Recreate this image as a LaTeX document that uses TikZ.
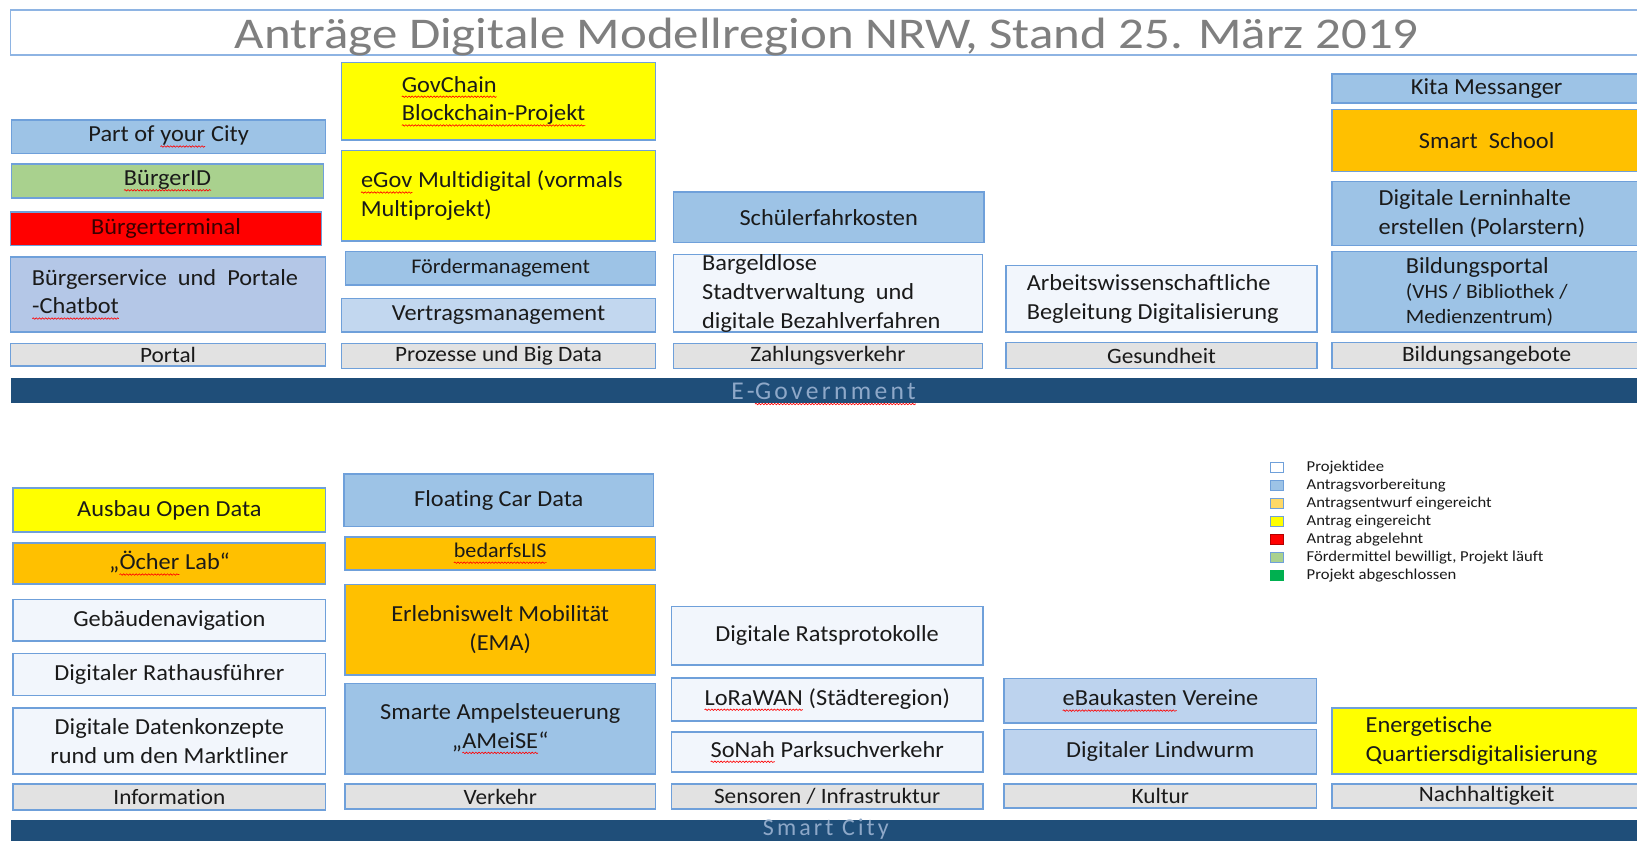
\documentclass[tikz,border=0pt]{standalone}
\usepackage{fontspec}
\setmainfont{Carlito}[FakeStretch=1.06,Ligatures=NoCommon]
\newfontfamily\titlefont{Carlito}[FakeStretch=1.16,Ligatures=NoCommon]
\newfontfamily\barfont{Carlito}[LetterSpace=13,Ligatures=NoCommon]
\newfontfamily\legfont{Carlito}[FakeStretch=1.1,Ligatures=NoCommon]
\usetikzlibrary{decorations.pathmorphing}
\definecolor{bord}{HTML}{6FA0DA}
\definecolor{tbord}{HTML}{8EB4E3}
\definecolor{cblue}{HTML}{9DC3E6}
\definecolor{clblue}{HTML}{BDD3EE}
\definecolor{cvert}{HTML}{C2D7EF}
\definecolor{cpurp}{HTML}{B4C7E7}
\definecolor{cidea}{HTML}{F2F6FC}
\definecolor{cyel}{HTML}{FFFF00}
\definecolor{corange}{HTML}{FFC000}
\definecolor{cred}{HTML}{FF0000}
\definecolor{cgreen}{HTML}{A9D18E}
\definecolor{cdone}{HTML}{00B050}
\definecolor{cdraft}{HTML}{FFD966}
\definecolor{cgray}{HTML}{E2E2E2}
\definecolor{cbar}{HTML}{1F4E79}
\definecolor{cbartext}{HTML}{8EA8C8}
\definecolor{ctitle}{HTML}{7F7F7F}
\definecolor{ctext}{HTML}{1A1A1A}
\definecolor{cdarkred}{HTML}{3A0000}
\newcommand\sq[1]{\tikz[baseline=(w.base)]{\node[inner sep=0pt,outer sep=0pt,minimum width=0pt,minimum height=0pt,draw=none,fill=none,anchor=base,font={}](w) at (0pt,0pt){#1};\draw[red,line width=0.6pt,decorate,decoration={snake,amplitude=0.7pt,segment length=3pt}] ([yshift=-4.5pt]w.base west)--([yshift=-4.5pt]w.base east);}}
\newcommand\bx[7]{\node[tile,fill=#6,minimum width={(#4)-(#2)},minimum height={(#5)-(#3)},align=center] (#1) at ({((#2)+(#4))/2},{((#3)+(#5))/2}) {#7};}
\newcommand\bxl[8]{\node[tile,fill=#6,minimum width={(#4)-(#2)},minimum height={(#5)-(#3)}] (#1) at ({((#2)+(#4))/2},{((#3)+(#5))/2}) {};
\node[txt,anchor=west,align=left] (#1t) at ([xshift={(#7)-(#2)}]#1.west) {#8};}
\begin{document}
\begin{tikzpicture}[x=1pt,y=-1pt,
  tile/.style={draw=bord,line width=1.3pt,inner sep=0pt,text=ctext,font=\fontsize{22}{27.5}\selectfont},
  txt/.style={inner sep=0pt,text=ctext,font=\fontsize{22}{27.5}\selectfont},
  bartext/.style={inner sep=0pt,anchor=base,text=cbartext,font=\barfont\fontsize{24.5}{29}\selectfont},
  legsq/.style={draw=bord,line width=0.8pt,minimum width=12.5pt,minimum height=9.5pt,inner sep=0pt},
  legtxt/.style={anchor=west,inner sep=0pt,text=ctext,font=\legfont\fontsize{14.5}{17}\selectfont}]
\useasboundingbox (0,0) rectangle (1568,805.5);
\clip (0,0) rectangle (1568,805.5);
\fill[white] (0,0) rectangle (1568,805.5);
% title
\node[draw=tbord,line width=1.2pt,fill=white,minimum width=1562,minimum height=43,inner sep=0pt] (title) at (791,31.2) {};
\node[inner sep=0pt,anchor=base,text=ctitle,font=\titlefont\fontsize{42}{50}\selectfont] (titletext) at (792,46) {Anträge Digitale Modellregion NRW, Stand 25. März 2019};
% E-Government top section
\bx{poc}{11}{115}{312}{147}{cblue}{Part of \sq{your} City}
\bx{bid}{11}{157}{310}{189.5}{cgreen}{\sq{BürgerID}}
\bx{bt}{10}{203}{308}{235}{cred}{\textcolor{cdarkred}{Bürgerterminal}}
\bxl{bsp}{10}{246}{312}{318}{cpurp}{31}{Bürgerservice\ \ und\ \ Portale\\\sq{-Chatbot}}
\bx{portal}{10}{329}{312}{350.5}{cgray}{\fontsize{21}{26}\selectfont Portal}
\bxl{gov}{327}{60}{628}{134}{cyel}{385}{\sq{GovChain}\\\sq{Blockchain-Projekt}}
\bxl{egov}{327}{144}{628}{231}{cyel}{346}{\sq{eGov} Multidigital (vormals\\Multiprojekt)}
\bx{foerd}{331}{241}{628}{273}{cblue}{\fontsize{20}{25}\selectfont Fördermanagement}
\bx{vertr}{327}{286}{628}{318}{cvert}{Vertragsmanagement}
\bx{proz}{327}{329}{628}{353}{cgray}{\fontsize{21}{26}\selectfont Prozesse und Big Data}
\bx{schue}{645}{184}{942.5}{232}{cblue}{Schülerfahrkosten}
\bxl{bargeld}{645}{244}{941}{318}{cidea}{673}{Bargeldlose\\Stadtverwaltung\ \ und\\digitale Bezahlverfahren}
\bx{zahl}{645}{329}{941}{353}{cgray}{\fontsize{21}{26}\selectfont Zahlungsverkehr}
\bxl{arbeit}{963.6}{254.5}{1261.5}{318}{cidea}{984}{Arbeitswissenschaftliche\\Begleitung Digitalisierung}
\bx{gesund}{963.6}{328}{1261.5}{353}{cgray}{\fontsize{21}{26}\selectfont Gesundheit}
\bx{kita}{1276}{71}{1572}{98.5}{cblue}{Kita Messanger}
\bx{school}{1276}{105}{1572}{164}{corange}{Smart\ \ School}
\bxl{lern}{1276}{174}{1572}{235}{cblue}{1321}{Digitale Lerninhalte\\erstellen (Polarstern)}
\bxl{bild}{1276}{241}{1572}{318}{cblue}{1347}{Bildungsportal\\[-3pt]{\fontsize{19.5}{23}\selectfont (VHS / Bibliothek /}\\[-4pt]{\fontsize{19.5}{23}\selectfont Medienzentrum)}}
\bx{bildang}{1276}{328}{1572}{353}{cgray}{\fontsize{21}{26}\selectfont Bildungsangebote}
\node[fill=cbar,minimum width=1600,minimum height=24,inner sep=0pt,anchor=north west] (egovbar) at (10,362) {};
\node[bartext] (egovtext) at (789,382.5) {E-\sq{Government}};
% legend
\node[legsq,fill=white] (l1) at (1222.7,448) {};
\node[legtxt] (l1t) at ([xshift=22]l1.east) {Projektidee};
\node[legsq,fill=cblue] (l2) at (1222.7,465.25) {};
\node[legtxt] (l2t) at ([xshift=22]l2.east) {Antragsvorbereitung};
\node[legsq,fill=cdraft] (l3) at (1222.7,482.5) {};
\node[legtxt] (l3t) at ([xshift=22]l3.east) {Antragsentwurf eingereicht};
\node[legsq,fill=cyel] (l4) at (1222.7,499.75) {};
\node[legtxt] (l4t) at ([xshift=22]l4.east) {Antrag eingereicht};
\node[legsq,fill=cred,draw=cred!70!black] (l5) at (1222.7,517) {};
\node[legtxt] (l5t) at ([xshift=22]l5.east) {Antrag abgelehnt};
\node[legsq,fill=cgreen] (l6) at (1222.7,534.25) {};
\node[legtxt] (l6t) at ([xshift=22]l6.east) {Fördermittel bewilligt, Projekt läuft};
\node[legsq,fill=cdone,draw=cdone] (l7) at (1222.7,551.5) {};
\node[legtxt] (l7t) at ([xshift=22]l7.east) {Projekt abgeschlossen};
% Smart City bottom section
\bx{open}{12.5}{467.5}{312}{509.5}{cyel}{Ausbau Open Data}
\bx{oecher}{12.5}{520}{312}{559.5}{corange}{„\sq{Öcher} Lab“}
\bx{geb}{12.5}{574}{312}{614}{cidea}{Gebäudenavigation}
\bx{rath}{12.5}{626}{312}{666}{cidea}{Digitaler Rathausführer}
\bx{daten}{12.5}{678}{312}{741.5}{cidea}{Digitale Datenkonzepte\\rund um den Marktliner}
\bx{info}{12.5}{751}{312}{776}{cgray}{\fontsize{21}{26}\selectfont Information}
\bx{fcd}{329.5}{454}{626}{504}{cblue}{Floating Car Data}
\bx{bedarf}{330.6}{514.5}{627.7}{546}{corange}{\fontsize{20}{25}\selectfont\sq{bedarfsLIS}}
\bx{ema}{330.6}{560}{627.7}{646.5}{corange}{Erlebniswelt Mobilität\\(EMA)}
\bx{ameise}{330.6}{654.5}{627.7}{741.5}{cblue}{Smarte Ampelsteuerung\\„\sq{AMeiSE}“}
\bx{verk}{330.6}{751}{627.7}{775}{cgray}{\fontsize{21}{26}\selectfont Verkehr}
\bx{rats}{643}{581}{941.5}{637}{cidea}{Digitale Ratsprotokolle}
\bx{lora}{643}{649.5}{941.5}{690.5}{cidea}{\sq{LoRaWAN} (Städteregion)}
\bx{sonah}{643}{701}{941.5}{739.5}{cidea}{\sq{SoNah} Parksuchverkehr}
\bx{sens}{643}{751}{941.5}{775}{cgray}{\fontsize{21}{26}\selectfont Sensoren / Infrastruktur}
\bx{ebau}{961.7}{650}{1261}{692.5}{clblue}{\sq{eBaukasten} Vereine}
\bx{lind}{961.7}{698.5}{1261}{741.5}{clblue}{Digitaler Lindwurm}
\bx{kultur}{961.7}{751}{1261}{774}{cgray}{\fontsize{21}{26}\selectfont Kultur}
\bxl{energ}{1276}{678}{1572}{741.5}{cyel}{1308.5}{Energetische\\Quartiersdigitalisierung}
\bx{nach}{1276}{751}{1572}{774}{cgray}{\fontsize{21}{26}\selectfont Nachhaltigkeit}
\node[fill=cbar,minimum width=1600,minimum height=30,inner sep=0pt,anchor=north west] (scbar) at (10,785) {};
\node[bartext,font=\barfont\fontsize{23}{27}\selectfont] (sctext) at (791,800.5) {Smart City};
\end{tikzpicture}
\end{document}
